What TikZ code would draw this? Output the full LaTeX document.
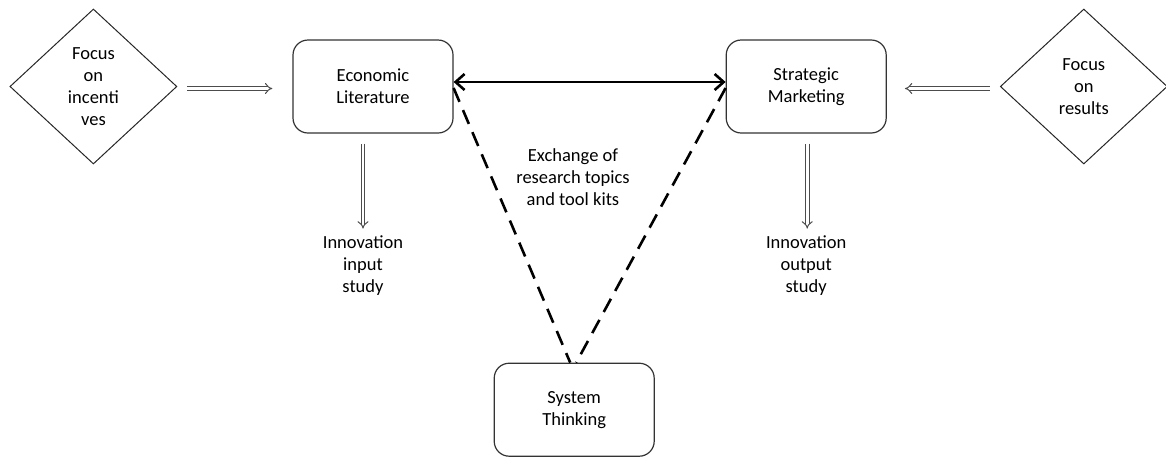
\documentclass[tikz,border=0pt]{standalone}
\usepackage{fontspec}
\setmainfont{Carlito}
\usetikzlibrary{arrows.meta,positioning,shapes.geometric}

\begin{document}
\begin{tikzpicture}[
    every node/.style={font=\fontsize{18.5}{22}\selectfont},
    box/.style={rectangle, draw=black!80, line width=1.2pt, rounded corners=15pt, minimum width=160pt, minimum height=93pt, align=center},
    focus/.style={diamond, draw=black!85, line width=1pt, inner sep=0pt, minimum width=167pt, minimum height=155pt, align=center},
    lbl/.style={align=center, inner sep=2pt},
    dbl/.style={double=white, double distance=2.8pt, line width=1pt, draw=black!70, -{Implies}},
    link/.style={{Straight Barb[length=9pt,width=16pt]}-{Straight Barb[length=9pt,width=16pt]}, line width=2.6pt},
    dashline/.style={line width=2.6pt, dash pattern=on 15pt off 9pt}
  ]
  \useasboundingbox (0,0) rectangle (1166pt,-456pt);

  \node[box] (econ) at (373pt,-86.5pt) {Economic\\Literature};
  \node[box, right=272pt of econ] (strat) {Strategic\\Marketing};
  \node[focus, left=115pt of econ] (lfocus) {Focus\\on\\incenti\\ves};
  \node[focus, right=113pt of strat] (rfocus) {Focus\\on\\results};
  \node[box, below right=229pt and 40pt of econ] (sys) {System\\Thinking};
  \node[lbl, below=100pt of econ, xshift=-10pt] (inin) {Innovation\\input\\study};
  \node[lbl, below=100pt of strat] (inout) {Innovation\\output\\study};
  \node[lbl] (xch) at (573pt,-177pt) {Exchange of\\research topics\\and tool kits};

  % start and end points of the hollow arrows
  \coordinate (lfrom) at ([xshift=10pt,yshift=-2pt]lfocus.east);
  \coordinate (lto) at ([xshift=-20pt,yshift=-2pt]econ.west);
  \coordinate (rfrom) at ([xshift=-10pt,yshift=-2pt]rfocus.west);
  \coordinate (rto) at ([xshift=18pt,yshift=-2pt]strat.east);
  \coordinate (inintop) at (inin.north |- econ.south);
  \coordinate (inouttop) at (inout.north |- strat.south);

  \draw[dbl] (lfrom) -- (lto);
  \draw[dbl] (rfrom) -- (rto);
  \draw[dbl] ([yshift=-10pt]inintop) -- ([yshift=5pt]inin.north);
  \draw[dbl] ([xshift=1pt,yshift=-10pt]inouttop) -- ([xshift=1pt,yshift=5pt]inout.north);
  \draw[link] ([yshift=4.5pt]econ.east) -- ([yshift=4.5pt]strat.west);
  \draw[dashline] ([yshift=-1.5pt]econ.east) -- ([xshift=-4pt]sys.north);
  \draw[dashline] ([yshift=-1.5pt]strat.west) -- ([xshift=2pt]sys.north);
\end{tikzpicture}
\end{document}
